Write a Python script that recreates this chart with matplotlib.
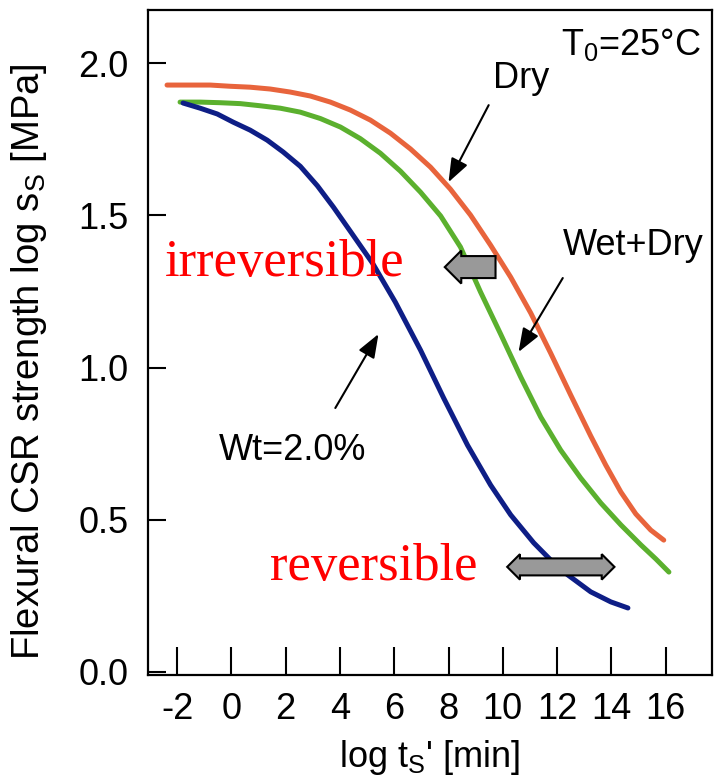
import matplotlib
matplotlib.use("Agg")
import matplotlib.pyplot as plt

plt.rcParams["font.family"] = ["Liberation Sans", "DejaVu Sans"]
plt.rcParams["mathtext.default"] = "regular"

# curves (log t_s' [min], log s_s [MPa])
dry_x = [-2.37, -1.52, -0.78, -0.04, 0.69, 1.43, 2.17, 2.91, 3.65, 4.38, 5.12,
         5.86, 6.60, 7.34, 8.07, 8.81, 9.55, 10.29, 11.03, 11.76, 12.50, 13.24,
         13.79, 14.35, 14.90, 15.45, 15.93]
dry_y = [1.928, 1.928, 1.928, 1.924, 1.921, 1.915, 1.905, 1.892, 1.872, 1.846,
         1.813, 1.770, 1.718, 1.658, 1.586, 1.501, 1.402, 1.297, 1.179, 1.048,
         0.910, 0.775, 0.680, 0.591, 0.519, 0.466, 0.433]

wetdry_x = [-1.89, -1.15, -0.41, 0.33, 1.06, 1.80, 2.54, 3.28, 4.02, 4.75, 5.49,
            6.23, 6.97, 7.71, 8.44, 9.18, 9.92, 10.66, 11.40, 12.13, 12.87,
            13.61, 14.35, 15.09, 15.64, 16.12]
wetdry_y = [1.872, 1.872, 1.870, 1.867, 1.860, 1.852, 1.839, 1.818, 1.790, 1.752,
            1.704, 1.645, 1.576, 1.498, 1.396, 1.248, 1.110, 0.969, 0.837, 0.729,
            0.637, 0.555, 0.483, 0.417, 0.371, 0.328]

wt_x = [-1.78, -1.15, -0.52, 0.07, 0.69, 1.32, 1.91, 2.54, 3.17, 3.76, 4.38,
        5.20, 6.04, 6.97, 7.82, 8.70, 9.55, 10.29, 11.14, 11.76, 12.39, 13.24,
        13.98, 14.61]
wt_y = [1.869, 1.852, 1.833, 1.806, 1.780, 1.747, 1.708, 1.661, 1.597, 1.527,
        1.448, 1.343, 1.215, 1.057, 0.900, 0.745, 0.614, 0.516, 0.424, 0.368,
        0.319, 0.263, 0.230, 0.210]

xticks = [-2, 0, 2, 4, 6, 8, 10, 12, 14, 16]
yticks = [0.0, 0.5, 1.0, 1.5, 2.0]

c_dry = "#E8643C"
c_wet = "#5BB02E"
c_wt = "#0E1E86"

fig = plt.figure(figsize=(7.2, 7.83), dpi=100)
ax = fig.add_axes([0.2056, 0.138, 0.783, 0.849])

for xs, ys, c in [(dry_x, dry_y, c_dry), (wetdry_x, wetdry_y, c_wet), (wt_x, wt_y, c_wt)]:
    ax.plot(xs, ys, color=c, lw=3.6, solid_capstyle="round", solid_joinstyle="round")

ax.set_xlim(-3.07, 17.7)
ax.set_ylim(-0.01, 2.174)
ax.set_xticks(xticks)
ax.set_xticklabels([str(v) for v in xticks])
ax.set_yticks(yticks)
ax.set_yticklabels([f"{v:.1f}" for v in yticks])
ax.tick_params(axis="x", direction="in", length=20, width=1.5, pad=12, labelsize=26)
ax.tick_params(axis="y", direction="in", length=13, width=1.5, pad=14, labelsize=26)
for s in ax.spines.values():
    s.set_linewidth(1.6)

ax.set_xlabel("log t$_S$' [min]", fontsize=26, labelpad=8)
ax.set_ylabel("Flexural CSR strength log s$_S$ [MPa]", fontsize=27.5)
ax.yaxis.set_label_coords(-0.175, 0.472)

# labels
ax.text(17.3, 2.06, "T$_0$=25\u00b0C", fontsize=26, ha="right", va="center")
ax.text(10.66, 1.95, "Dry", fontsize=26, ha="center", va="center")
ax.text(14.79, 1.40, "Wet+Dry", fontsize=26, ha="center", va="center")
ax.text(2.24, 0.729, "Wt=2.0%", fontsize=26, ha="center", va="center")
ax.text(-2.44, 1.30, "irreversible", fontsize=38, color="red",
        family="Liberation Serif", ha="left", va="baseline")
ax.text(1.43, 0.302, "reversible", fontsize=38, color="red",
        family="Liberation Serif", ha="left", va="baseline")

# pointer arrows
arrow_kw = dict(arrowstyle="-|>,head_length=0.9,head_width=0.34", color="black",
                lw=1.5, mutation_scale=16, shrinkA=0, shrinkB=0)
ax.annotate("", xy=(8.0, 1.609), xytext=(9.48, 1.862), arrowprops=arrow_kw)
ax.annotate("", xy=(10.58, 1.051), xytext=(12.21, 1.294), arrowprops=arrow_kw)
ax.annotate("", xy=(5.42, 1.110), xytext=(3.83, 0.867), arrowprops=arrow_kw)

# gray block arrows
ax.text(9.0, 1.33, " " * 6, fontsize=17, ha="center", va="center",
        bbox=dict(boxstyle="larrow,pad=0", fc="#999999", ec="black", lw=1.5))
ax.text(12.06, 0.345, " " * 16, fontsize=14, ha="center", va="center",
        bbox=dict(boxstyle="darrow,pad=0", fc="#999999", ec="black", lw=1.5))

fig.savefig("out.png", dpi=100)
